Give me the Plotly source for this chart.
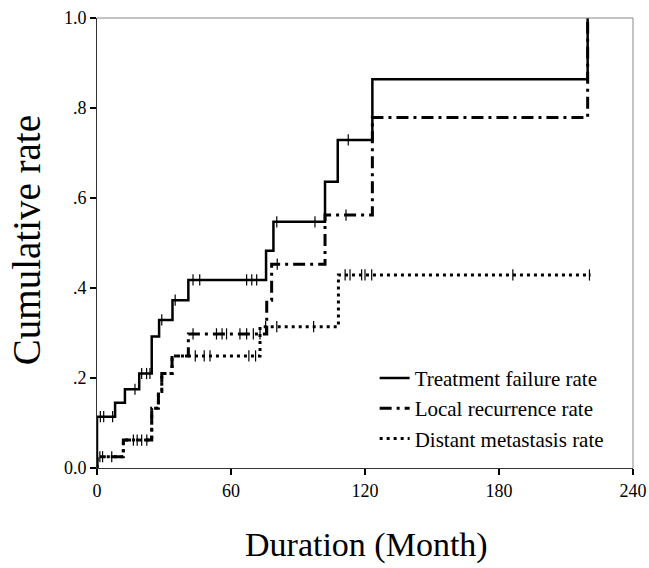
import plotly.graph_objects as go
import numpy as np

# ---- data ----
tf_times = [0, 8.1, 12.5, 18.9, 24.5, 27.8, 33.8, 40.9, 75.7, 79.0, 102.1, 107.8, 123.3, 219.7]
tf_values = [0.114, 0.145, 0.175, 0.210, 0.292, 0.329, 0.373, 0.418, 0.483, 0.547, 0.636, 0.729, 0.864, 1.0]
tf_end = 219.7
tf_censor = [1.5, 3.0, 7.0, 17.0, 20.0, 22.2, 23.7, 29.0, 35.0, 43.0, 46.0, 67.0, 69.3, 71.5, 80.5, 97.6, 112.5]

lr_times = [0, 11.8, 24.5, 27.5, 29.0, 33.6, 40.9, 76.0, 78.2, 102.1, 123.3, 219.7]
lr_values = [0.025, 0.062, 0.133, 0.170, 0.210, 0.249, 0.298, 0.373, 0.453, 0.562, 0.779, 1.0]
lr_end = 219.7
lr_censor = [43.0, 53.5, 56.0, 58.0, 64.0, 67.0, 70.0, 73.0, 80.7, 111.5]

dm_times = [0, 11.8, 24.5, 27.5, 29.0, 33.6, 73.0, 108.1]
dm_values = [0.025, 0.062, 0.133, 0.170, 0.210, 0.249, 0.314, 0.429]
dm_end = 221.0
dm_censor = [1.3, 2.5, 6.6, 16.3, 18.0, 20.0, 22.3, 44.0, 48.0, 50.6, 68.0, 71.0, 75.5,
             80.5, 97.0, 111.1, 113.3, 118.5, 120.0, 123.0, 186.2, 220.5]

series_names = ["Treatment failure rate", "Local recurrence rate", "Distant metastasis rate"]
x_ticks = [0, 60, 120, 180, 240]
y_ticks = [0.0, 0.2, 0.4, 0.6, 0.8, 1.0]
y_ticktext = ["0.0", ".2", ".4", ".6", ".8", "1.0"]

FONT = "Times New Roman, Tinos, Liberation Serif, DejaVu Serif, serif"


def step_xy(times, values, end):
    xs = [0] + list(times) + [end]
    ys = [0] + list(values) + [values[-1]]
    return xs, ys


def level_at(times, values, t):
    v = 0.0
    for ti, vi in zip(times, values):
        if ti <= t:
            v = vi
    return v


fig = go.Figure()

styles = [
    dict(color="black", width=2.5, dash="solid"),
    dict(color="black", width=3, dash="12px,5px,3px,5px"),
    dict(color="black", width=3, dash="3px,4px"),
]
datasets = [
    (tf_times, tf_values, tf_end, tf_censor),
    (lr_times, lr_values, lr_end, lr_censor),
    (dm_times, dm_values, dm_end, dm_censor),
]

for name, style, (t, v, e, c) in zip(series_names, styles, datasets):
    xs, ys = step_xy(t, v, e)
    fig.add_trace(go.Scatter(x=xs, y=ys, mode="lines", line_shape="hv",
                             line=style, name=name, hoverinfo="skip"))

for name, (t, v, e, c) in zip(series_names, datasets):
    fig.add_trace(go.Scatter(
        x=c, y=[level_at(t, v, ci) for ci in c], mode="markers",
        marker=dict(symbol="line-ns-open", size=8, color="black",
                    line=dict(color="black", width=1.2)),
        showlegend=False, hoverinfo="skip", name=name + " censored"))

fig.update_layout(
    width=649, height=568,
    margin=dict(l=97, r=16, t=18, b=100, autoexpand=False),
    paper_bgcolor="white", plot_bgcolor="white",
    font=dict(family=FONT, color="black", size=18),
    showlegend=True,
    legend=dict(x=0.518, y=0.245, xanchor="left", yanchor="top",
                font=dict(family=FONT, size=21, color="black"),
                bgcolor="rgba(0,0,0,0)", tracegroupgap=0),
    xaxis=dict(range=[0, 240], tickvals=x_ticks, ticks="outside", ticklen=6, tickwidth=2,
               tickcolor="black", showline=True, linecolor="#333", linewidth=1,
               automargin=False,
               showgrid=False, zeroline=False, tickfont=dict(size=18, family=FONT)),
    yaxis=dict(range=[0, 1], tickvals=y_ticks, ticktext=y_ticktext, ticks="outside",
               ticklen=6, tickwidth=2, tickcolor="black", showline=True, linecolor="#333",
               automargin=False,
               linewidth=1, showgrid=False, zeroline=False, tickfont=dict(size=18, family=FONT)),
    shapes=[
        dict(type="line", xref="paper", yref="paper", x0=0, x1=1, y0=1, y1=1,
             line=dict(color="#888", width=1)),
        dict(type="line", xref="paper", yref="paper", x0=1, x1=1, y0=0, y1=1,
             line=dict(color="#888", width=1)),
    ],
    annotations=[
        dict(text="Duration (Month)", xref="paper", yref="paper", x=0.502, y=-0.171,
             xanchor="center", yanchor="middle", showarrow=False,
             font=dict(family=FONT, size=34, color="black")),
        dict(text="Cumulative rate", xref="paper", yref="paper", x=-0.13, y=0.507,
             xanchor="center", yanchor="middle", showarrow=False, textangle=-90,
             font=dict(family=FONT, size=39, color="black")),
    ],
)

fig.write_html("out.html")
